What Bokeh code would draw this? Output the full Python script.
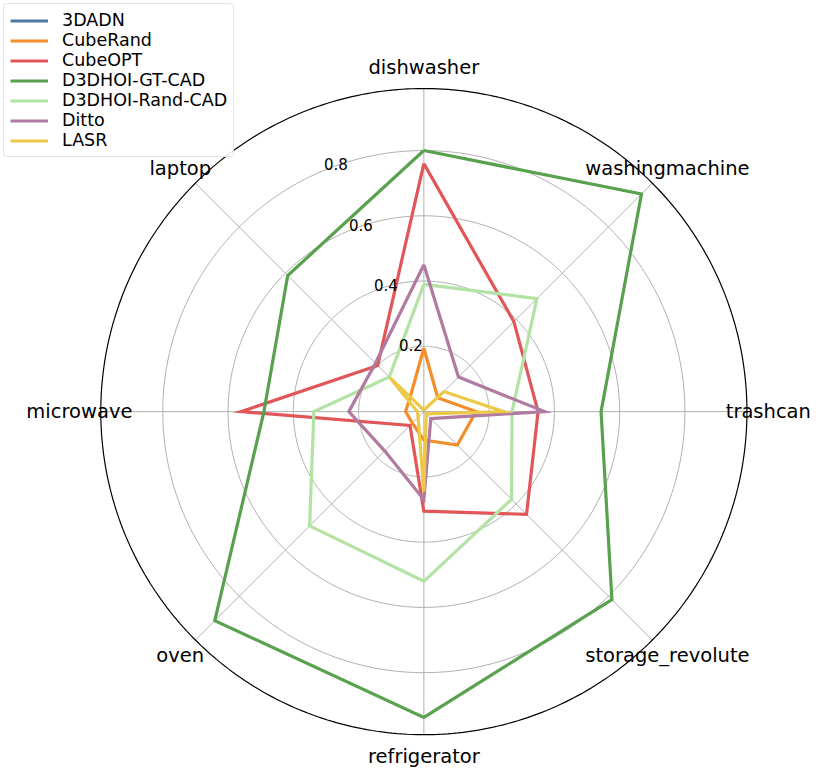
import numpy as np
from bokeh.plotting import figure
from bokeh.models import Legend, LegendItem, Range1d, ColumnDataSource
from bokeh.core.properties import value
from bokeh.embed import file_html
from bokeh.resources import INLINE

categories = ["dishwasher", "laptop", "microwave", "oven", "refrigerator",
              "storage_revolute", "trashcan", "washingmachine"]
series_names = ["3DADN", "CubeRand", "CubeOPT", "D3DHOI-GT-CAD",
                "D3DHOI-Rand-CAD", "Ditto", "LASR"]
v_3dadn = [0.0, 0.0, 0.0, 0.0, 0.0, 0.0, 0.0, 0.0]
v_cuberand = [0.195, 0.06, 0.056, 0.05, 0.087, 0.145, 0.16, 0.06]
v_cubeopt = [0.76, 0.20, 0.56, 0.06, 0.305, 0.445, 0.35, 0.39]
v_gtcad = [0.80, 0.59, 0.49, 0.906, 0.937, 0.815, 0.543, 0.943]
v_randcad = [0.39, 0.15, 0.337, 0.495, 0.52, 0.38, 0.27, 0.49]
v_ditto = [0.45, 0.21, 0.23, 0.17, 0.27, 0.03, 0.37, 0.15]
v_lasr = [0.005, 0.148, 0.02, 0.025, 0.245, 0.01, 0.245, 0.087]
series_values = [v_3dadn, v_cuberand, v_cubeopt, v_gtcad, v_randcad, v_ditto, v_lasr]
colors = ["#4e79a7", "#f28e2b", "#e15759", "#59a14f", "#b3e2a5", "#b07aa1", "#edc948"]
r_ticks = [0.2, 0.4, 0.6, 0.8]
r_tick_labels = ["0.2", "0.4", "0.6", "0.8"]
r_max = 0.99

# layout: the reference (830x784) scaled to fit 814x768
S = 0.98
K = 333.0 * S
W, H = 814, 768
cx, cy = 432 * S, 419.5 * S

p = figure(width=W, height=H, output_backend="svg", toolbar_location=None,
           x_axis_type=None, y_axis_type=None, min_border=0,
           x_range=Range1d(-cx / K, (W - cx) / K),
           y_range=Range1d(-(H - cy) / K, cy / K))
p.grid.visible = False
p.outline_line_color = None
p.background_fill_color = "white"

n = len(categories)
theta = np.pi / 2 + np.arange(n) * 2 * np.pi / n

# grid circles
t = np.linspace(0, 2 * np.pi, 400)
for rt in r_ticks:
    p.line(rt * np.cos(t), rt * np.sin(t), line_color="#b0b0b0", line_width=1)
# spokes
for a in theta:
    p.line([0, r_max * np.cos(a)], [0, r_max * np.sin(a)], line_color="#b0b0b0", line_width=1)

# data
items = []
for name, vals, col in zip(series_names, series_values, colors):
    v = np.array(vals + [vals[0]])
    a = np.concatenate([theta, theta[:1]])
    r = p.line(v * np.cos(a), v * np.sin(a), line_color=col, line_width=3.2,
               line_join="miter")
    items.append(LegendItem(label=name, renderers=[r]))

# outer circle
p.line(r_max * np.cos(t), r_max * np.sin(t), line_color="black", line_width=1.2)

# category labels
lab_r = 351.5 / 333.0
src = ColumnDataSource(dict(x=lab_r * np.cos(theta), y=lab_r * np.sin(theta), text=categories))
p.text(x="x", y="y", text="text", source=src, text_align="center",
       text_baseline="middle", text_font=value("DejaVu Sans"),
       text_font_size="19.5px", text_color="black")

# radial tick labels
ra = np.deg2rad(112.5)
rsrc = ColumnDataSource(dict(x=[rt * np.cos(ra) for rt in r_ticks],
                             y=[rt * np.sin(ra) for rt in r_ticks],
                             text=r_tick_labels))
p.text(x="x", y="y", text="text", source=rsrc, text_align="left",
       text_baseline="bottom", text_font=value("DejaVu Sans"),
       text_font_size="15px", text_color="black")

legend = Legend(items=items, location="top_left", margin=3, padding=6,
                spacing=0, glyph_width=38, glyph_height=19, label_height=19,
                label_standoff=14, label_text_font="DejaVu Sans",
                label_text_font_size="17.5px", label_text_color="black",
                label_text_baseline="middle",
                border_line_color="#cccccc", border_radius=4,
                border_line_width=1, background_fill_alpha=0.9)
p.add_layout(legend)

open("out.html", "w").write(file_html(p, INLINE))
